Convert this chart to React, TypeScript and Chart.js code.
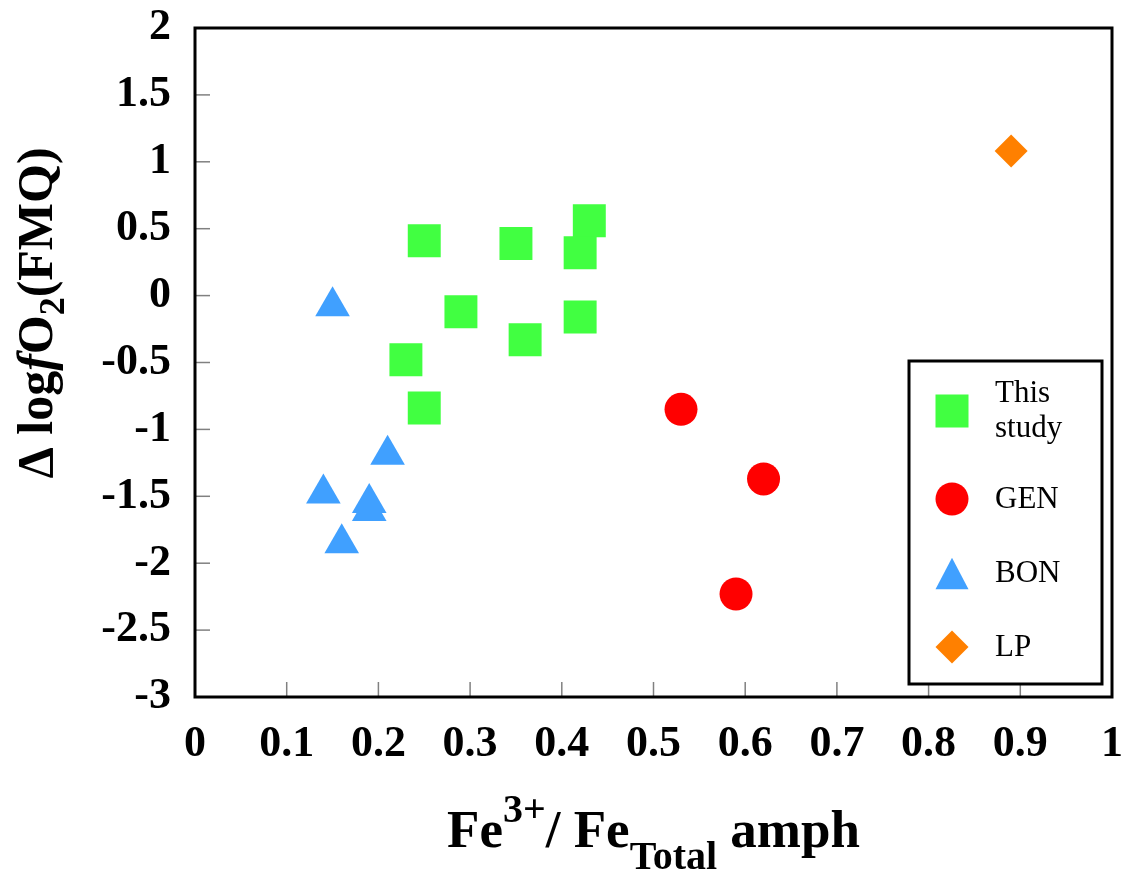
import React, { useEffect, useRef } from "react";
import { Chart, registerables } from "chart.js";

Chart.register(...registerables);

// ---- axis ticks ----
const xTickValues = [0, 0.1, 0.2, 0.3, 0.4, 0.5, 0.6, 0.7, 0.8, 0.9, 1];
const xTickLabels = ["0", "0.1", "0.2", "0.3", "0.4", "0.5", "0.6", "0.7", "0.8", "0.9", "1"];
const yTickValues = [-3, -2.5, -2, -1.5, -1, -0.5, 0, 0.5, 1, 1.5, 2];
const yTickLabels = ["-3", "-2.5", "-2", "-1.5", "-1", "-0.5", "0", "0.5", "1", "1.5", "2"];

// ---- series ----
const studyX = [0.25, 0.35, 0.43, 0.42, 0.29, 0.42, 0.36, 0.23, 0.25];
const studyY = [0.41, 0.39, 0.56, 0.32, -0.12, -0.16, -0.33, -0.48, -0.84];
const genX = [0.53, 0.62, 0.59];
const genY = [-0.85, -1.37, -2.23];
const bonX = [0.15, 0.21, 0.14, 0.19, 0.19, 0.16];
const bonY = [-0.08, -1.19, -1.48, -1.55, -1.61, -1.85];
const lpX = [0.89];
const lpY = [1.08];

const legendLines = [["This", "study"], ["GEN"], ["BON"], ["LP"]];
const seriesColors = ["#41FF41", "#FF0000", "#40A0FF", "#FF8000"];
const seriesStyles = ["rect", "circle", "triangle", "rectRot"];

const FAMILY = '"Liberation Serif", "Times New Roman", serif';

const toPts = (xs: number[], ys: number[]) => xs.map((x, i) => ({ x, y: ys[i] }));

type Seg = { text: string; size: number; italic?: boolean; shift?: number };

function segFont(s: Seg) {
  return `${s.italic ? "italic " : ""}bold ${s.size}px ${FAMILY}`;
}

function drawRich(ctx: CanvasRenderingContext2D, segs: Seg[], cx: number, baseline: number) {
  let total = 0;
  const widths = segs.map((s) => {
    ctx.font = segFont(s);
    const w = ctx.measureText(s.text).width;
    total += w;
    return w;
  });
  let x = cx - total / 2;
  ctx.textAlign = "left";
  ctx.textBaseline = "alphabetic";
  segs.forEach((s, i) => {
    ctx.font = segFont(s);
    ctx.fillText(s.text, x, baseline + (s.shift || 0));
    x += widths[i];
  });
}

function drawShape(ctx: CanvasRenderingContext2D, style: string, x: number, y: number, h: number, color: string) {
  ctx.fillStyle = color;
  ctx.beginPath();
  if (style === "rect") {
    ctx.rect(x - h, y - h, 2 * h, 2 * h);
  } else if (style === "circle") {
    ctx.arc(x, y, h, 0, Math.PI * 2);
  } else if (style === "triangle") {
    const hh = h * 0.95;
    ctx.moveTo(x, y - hh);
    ctx.lineTo(x + h, y + hh);
    ctx.lineTo(x - h, y + hh);
    ctx.closePath();
  } else {
    ctx.moveTo(x, y - h);
    ctx.lineTo(x + h, y);
    ctx.lineTo(x, y + h);
    ctx.lineTo(x - h, y);
    ctx.closePath();
  }
  ctx.fill();
}

const framePlugin = {
  id: "frame",
  beforeDatasetsDraw(chart: any) {
    const { ctx, chartArea: a, scales } = chart;
    const xs = scales.x;
    const ys = scales.y;
    ctx.save();
    ctx.strokeStyle = "#808080";
    ctx.lineWidth = 1.5;
    xs.ticks.forEach((t: any) => {
      if (t.value <= xs.min || t.value >= xs.max) return;
      const px = xs.getPixelForValue(t.value);
      ctx.beginPath();
      ctx.moveTo(px, a.bottom);
      ctx.lineTo(px, a.bottom - 15);
      ctx.stroke();
    });
    ys.ticks.forEach((t: any) => {
      if (t.value <= ys.min || t.value >= ys.max) return;
      const py = ys.getPixelForValue(t.value);
      ctx.beginPath();
      ctx.moveTo(a.left, py);
      ctx.lineTo(a.left + 15, py);
      ctx.stroke();
    });
    ctx.strokeStyle = "#000";
    ctx.lineWidth = 3;
    ctx.strokeRect(a.left, a.top, a.right - a.left, a.bottom - a.top);
    ctx.restore();
  },
  afterDraw(chart: any) {
    const { ctx, chartArea: a } = chart;
    ctx.save();
    // legend box
    const lx1 = a.right - 10;
    const lx0 = lx1 - 193;
    const ly1 = a.bottom - 13;
    const ly0 = ly1 - 323;
    ctx.fillStyle = "#fff";
    ctx.fillRect(lx0, ly0, lx1 - lx0, ly1 - ly0);
    ctx.strokeStyle = "#000";
    ctx.lineWidth = 3;
    ctx.strokeRect(lx0, ly0, lx1 - lx0, ly1 - ly0);
    const centers = [ly0 + 50, ly0 + 138, ly0 + 212.5, ly0 + 286];
    chart.data.datasets.forEach((ds: any, i: number) => {
      const cy = centers[i];
      drawShape(ctx, seriesStyles[i], lx0 + 43, cy, 16.5, ds.backgroundColor);
      ctx.fillStyle = "#000";
      ctx.font = `31px ${FAMILY}`;
      ctx.textAlign = "left";
      ctx.textBaseline = "alphabetic";
      const lines = legendLines[i];
      const lh = 35;
      lines.forEach((ln, j) => {
        const by = cy + 8.5 + (j - (lines.length - 1) / 2) * lh;
        ctx.fillText(ln, lx0 + 86, by);
      });
    });

    // x title
    ctx.fillStyle = "#000";
    const cx = (a.left + a.right) / 2;
    drawRich(
      ctx,
      [
        { text: "Fe", size: 53 },
        { text: "3+", size: 40, shift: -25 },
        { text: "/ Fe", size: 53 },
        { text: "Total", size: 40, shift: 22 },
        { text: " amph", size: 53 },
      ],
      cx,
      847
    );

    // y title
    ctx.save();
    ctx.translate(52, 313);
    ctx.rotate(-Math.PI / 2);
    drawRich(
      ctx,
      [
        { text: "\u0394 log", size: 50 },
        { text: "f", size: 50, italic: true },
        { text: "O", size: 50 },
        { text: "2", size: 36, shift: 12 },
        { text: "(FMQ)", size: 50 },
      ],
      0,
      0
    );
    ctx.restore();
    ctx.restore();
  },
};

function zeroPadding(s: any) {
  s.paddingTop = 0;
  s.paddingBottom = 0;
  s.paddingLeft = 0;
  s.paddingRight = 0;
}

export default function App() {
  const canvasRef = useRef<HTMLCanvasElement | null>(null);

  useEffect(() => {
    if (!canvasRef.current) return;
    const tickFont = { family: FAMILY, size: 44, weight: "bold" as const };
    const chart = new Chart(canvasRef.current, {
      type: "scatter",
      data: {
        datasets: [
          {
            label: "This study",
            data: toPts(studyX, studyY),
            backgroundColor: seriesColors[0],
            borderWidth: 0,
            pointStyle: "rect",
            pointRadius: 23.3,
          },
          {
            label: "GEN",
            data: toPts(genX, genY),
            backgroundColor: seriesColors[1],
            borderWidth: 0,
            pointStyle: "circle",
            pointRadius: 16.5,
          },
          {
            label: "BON",
            data: toPts(bonX, bonY),
            backgroundColor: seriesColors[2],
            borderWidth: 0,
            pointStyle: "triangle",
            pointRadius: 20,
          },
          {
            label: "LP",
            data: toPts(lpX, lpY),
            backgroundColor: seriesColors[3],
            borderWidth: 0,
            pointStyle: "rectRot",
            pointRadius: 16.5,
          },
        ],
      },
      options: {
        responsive: false,
        animation: false,
        events: [],
        devicePixelRatio: 1,
        layout: { autoPadding: false, padding: { top: 28, right: 11, left: 0, bottom: 0 } },
        plugins: { legend: { display: false }, tooltip: { enabled: false } },
        scales: {
          x: {
            type: "linear",
            min: 0,
            max: 1,
            afterFit: (s: any) => {
              s.height = 178;
              zeroPadding(s);
            },
            afterBuildTicks: (s: any) => {
              s.ticks = xTickValues.map((v) => ({ value: v }));
            },
            ticks: {
              font: tickFont,
              color: "#000",
              padding: 21,
              autoSkip: false,
              maxRotation: 0,
              minRotation: 0,
              callback: (_v: any, i: number) => xTickLabels[i],
            },
            grid: { display: false, drawTicks: false },
            border: { display: false },
          },
          y: {
            type: "linear",
            min: -3,
            max: 2,
            afterFit: (s: any) => {
              s.width = 195;
              zeroPadding(s);
            },
            afterBuildTicks: (s: any) => {
              s.ticks = yTickValues.map((v) => ({ value: v }));
            },
            ticks: {
              font: tickFont,
              color: "#000",
              padding: 24,
              autoSkip: false,
              callback: (_v: any, i: number) => yTickLabels[i],
            },
            grid: { display: false, drawTicks: false },
            border: { display: false },
          },
        },
      },
      plugins: [framePlugin],
    });
    return () => chart.destroy();
  }, []);

  return (
    <div style={{ position: "absolute", left: 0, top: 0, width: 1123, height: 875, background: "#fff" }}>
      <canvas ref={canvasRef} width={1123} height={875} style={{ display: "block" }} />
    </div>
  );
}
